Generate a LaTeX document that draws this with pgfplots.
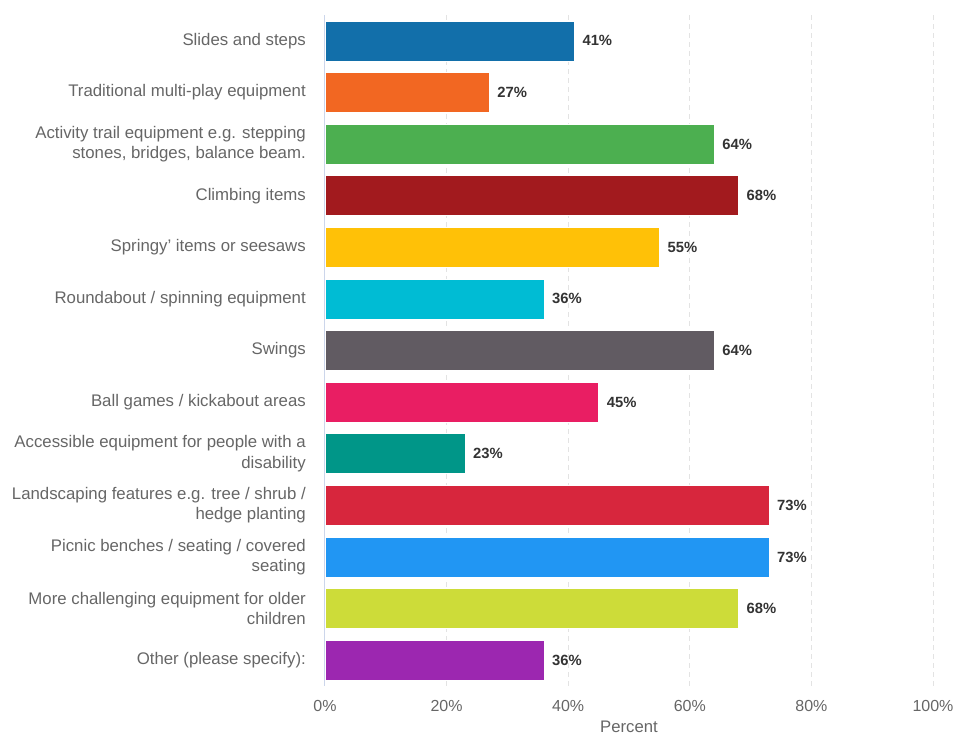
\documentclass[border=0pt]{standalone}
\usepackage{fontspec}
\setmainfont{Liberation Sans}
\usepackage{pgfplots}
\pgfplotsset{compat=1.18}

\definecolor{labgray}{HTML}{666666}
\definecolor{valgray}{HTML}{333333}
\definecolor{axline}{HTML}{CCD6EB}
\definecolor{gridc}{HTML}{E3E3E3}
\definecolor{c1}{HTML}{126FAA}
\definecolor{c2}{HTML}{F26722}
\definecolor{c3}{HTML}{4CAF50}
\definecolor{c4}{HTML}{A21A1E}
\definecolor{c5}{HTML}{FFC107}
\definecolor{c6}{HTML}{00BCD4}
\definecolor{c7}{HTML}{615B62}
\definecolor{c8}{HTML}{E91E63}
\definecolor{c9}{HTML}{009688}
\definecolor{c10}{HTML}{D7263D}
\definecolor{c11}{HTML}{2196F3}
\definecolor{c12}{HTML}{CDDC39}
\definecolor{c13}{HTML}{9C27B0}

\begin{document}
\begin{tikzpicture}
\begin{axis}[
    name=ax,
    scale only axis,
    width=608pt, height=671pt,
    xbar, bar width=40pt, bar shift=0pt,
    y dir=reverse,
    xmin=0, xmax=100,
    ymin=-0.5, ymax=12.5,
    xtick={0,20,40,60,80,100},
    xticklabel={\pgfmathprintnumber{\tick}\%},
    ytick={0,...,12},
    yticklabels={
        Slides and steps,
        Traditional multi-play equipment,
        {Activity trail equipment e.g. stepping\\stones, bridges, balance beam.},
        Climbing items,
        Springy’ items or seesaws,
        Roundabout / spinning equipment,
        Swings,
        Ball games / kickabout areas,
        {Accessible equipment for people with a\\disability},
        {Landscaping features e.g. tree / shrub /\\hedge planting},
        {Picnic benches / seating / covered\\seating},
        {More challenging equipment for older\\children},
        Other (please specify):},
    major tick length=0pt,
    axis x line*=bottom,
    axis y line*=left,
    x axis line style={draw=none},
    y axis line style={draw=axline, line width=1pt, -},
    xmajorgrids,
    grid style={dashed, dash pattern=on 5pt off 4pt, color=gridc, line width=1pt},
    y tick label style={align=right, font=\fontsize{16.8}{20.5}\selectfont, text=labgray, inner sep=0pt, xshift=-19pt},
    x tick label style={font=\fontsize{16}{19}\selectfont, text=labgray, yshift=-11pt},
    xlabel={Percent},
    xlabel style={font=\fontsize{16.7}{19}\selectfont, text=labgray, yshift=-2pt},
    /pgf/number format/assume math mode=true,
    nodes near coords={\pgfmathprintnumber{\pgfplotspointmeta}\%},
    nodes near coords style={font=\bfseries\fontsize{14.8}{17}\selectfont, text=valgray, anchor=west, inner sep=0pt, xshift=8pt},
    every axis plot/.append style={draw=white, line width=0.5pt},
]
\addplot[fill=c1] coordinates {(41,0)};
\addplot[fill=c2] coordinates {(27,1)};
\addplot[fill=c3] coordinates {(64,2)};
\addplot[fill=c4] coordinates {(68,3)};
\addplot[fill=c5] coordinates {(55,4)};
\addplot[fill=c6] coordinates {(36,5)};
\addplot[fill=c7] coordinates {(64,6)};
\addplot[fill=c8] coordinates {(45,7)};
\addplot[fill=c9] coordinates {(23,8)};
\addplot[fill=c10] coordinates {(73,9)};
\addplot[fill=c11] coordinates {(73,10)};
\addplot[fill=c12] coordinates {(68,11)};
\addplot[fill=c13] coordinates {(36,12)};
\end{axis}
\pgfresetboundingbox
\path ([xshift=-325pt,yshift=-51pt]ax.south west) rectangle ([xshift=22pt,yshift=15pt]ax.north east);
\end{tikzpicture}
\end{document}
